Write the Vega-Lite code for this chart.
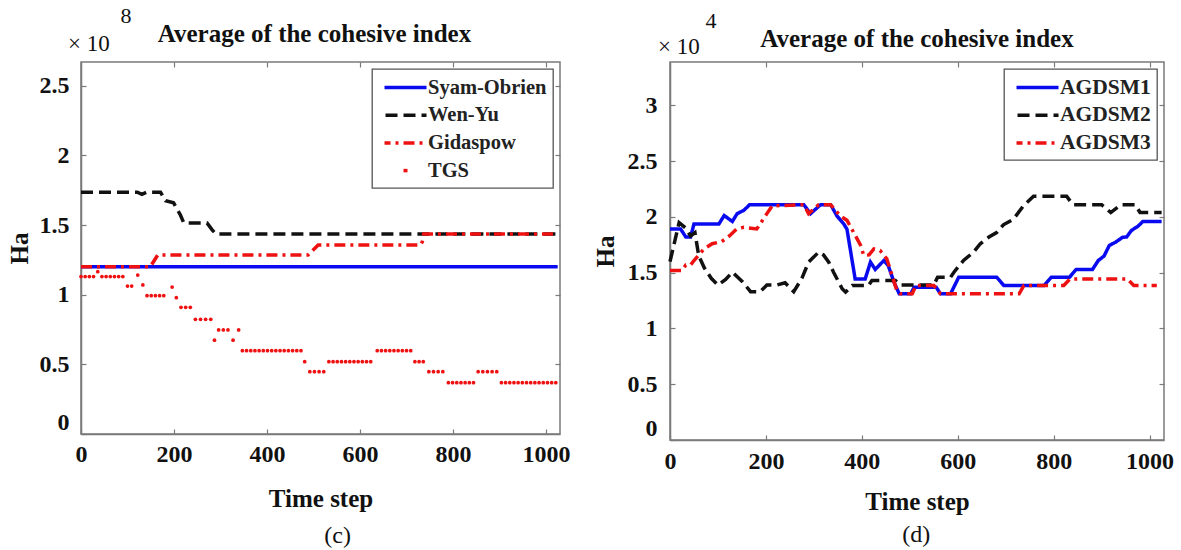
{
  "$schema": "https://vega.github.io/schema/vega-lite/v6.json",
  "background": "white",
  "padding": {"left": 6, "top": 4, "right": 3, "bottom": 3},
  "spacing": 21,
  "resolve": {"scale": {"color": "independent", "strokeDash": "independent"}, "legend": {"color": "independent", "strokeDash": "independent"}},
  "config": {
    "font": "Liberation Serif",
    "view": {"stroke": "#7a7a7a", "strokeWidth": 1.5},
    "axis": {"labelFont": "Liberation Serif", "labelFontWeight": "bold", "labelFontSize": 24, "labelColor": "#111111", "titleFont": "Liberation Serif", "titleFontWeight": "bold", "titleFontSize": 25, "titleColor": "#111111", "domainColor": "#7a7a7a", "domainWidth": 1.5, "tickColor": "#7a7a7a", "tickWidth": 1.2, "grid": false},
    "legend": {"orient": "top-right", "offset": 7, "padding": 6, "strokeColor": "#555555", "strokeWidth": 1.3, "fillColor": "white", "symbolType": "M-2,0H2", "symbolSize": 441, "symbolOffset": 15, "symbolStrokeWidth": 3.5, "symbolDashOffset": -19, "labelFont": "Liberation Serif", "labelFontWeight": "bold", "labelFontSize": 20.5, "labelColor": "#222222", "rowPadding": 4.7, "labelOffset": 10},
    "title": {"font": "Liberation Serif", "fontWeight": "bold", "fontSize": 25, "color": "#111111"}
  },
  "datasets": {
    "c_lines": [
      {"t": 0, "v": 1.2, "s": "Syam-Obrien"}, {"t": 1025, "v": 1.2, "s": "Syam-Obrien"},
      {"t": 0, "v": 1.735, "s": "Wen-Yu"}, {"t": 121, "v": 1.735, "s": "Wen-Yu"}, {"t": 131, "v": 1.72, "s": "Wen-Yu"}, {"t": 141, "v": 1.735, "s": "Wen-Yu"}, {"t": 171, "v": 1.735, "s": "Wen-Yu"}, {"t": 182, "v": 1.675, "s": "Wen-Yu"}, {"t": 199, "v": 1.66, "s": "Wen-Yu"}, {"t": 214, "v": 1.57, "s": "Wen-Yu"}, {"t": 221, "v": 1.515, "s": "Wen-Yu"}, {"t": 271, "v": 1.515, "s": "Wen-Yu"}, {"t": 282, "v": 1.465, "s": "Wen-Yu"}, {"t": 290, "v": 1.436, "s": "Wen-Yu"}, {"t": 1025, "v": 1.436, "s": "Wen-Yu"},
      {"t": 0, "v": 1.2, "s": "Gidaspow"}, {"t": 149, "v": 1.2, "s": "Gidaspow"}, {"t": 165, "v": 1.285, "s": "Gidaspow"}, {"t": 488, "v": 1.285, "s": "Gidaspow"}, {"t": 510, "v": 1.357, "s": "Gidaspow"}, {"t": 730, "v": 1.357, "s": "Gidaspow"}, {"t": 734, "v": 1.38, "s": "Gidaspow"}, {"t": 737, "v": 1.436, "s": "Gidaspow"}, {"t": 1025, "v": 1.436, "s": "Gidaspow"}
    ],
    "c_tgs": [
      {"t": 0, "v": 1.13}, {"t": 9, "v": 1.13}, {"t": 18, "v": 1.13}, {"t": 27, "v": 1.13}, {"t": 36, "v": 1.165}, {"t": 45, "v": 1.13}, {"t": 54, "v": 1.13}, {"t": 63, "v": 1.13}, {"t": 72, "v": 1.13}, {"t": 81, "v": 1.13}, {"t": 90, "v": 1.13},
      {"t": 100, "v": 1.062}, {"t": 109, "v": 1.062}, {"t": 122, "v": 1.141}, {"t": 133, "v": 1.07},
      {"t": 142, "v": 0.993}, {"t": 151, "v": 0.993}, {"t": 160, "v": 0.993}, {"t": 169, "v": 0.993}, {"t": 178, "v": 0.993},
      {"t": 196, "v": 1.055}, {"t": 205, "v": 0.978},
      {"t": 215, "v": 0.909}, {"t": 225, "v": 0.909}, {"t": 235, "v": 0.909},
      {"t": 246, "v": 0.823}, {"t": 257, "v": 0.823}, {"t": 268, "v": 0.823}, {"t": 279, "v": 0.823},
      {"t": 287, "v": 0.673}, {"t": 296, "v": 0.747}, {"t": 306, "v": 0.747}, {"t": 316, "v": 0.747}, {"t": 327, "v": 0.673}, {"t": 339, "v": 0.747},
      {"t": 347, "v": 0.598}, {"t": 356, "v": 0.598}, {"t": 365, "v": 0.598}, {"t": 374, "v": 0.598}, {"t": 383, "v": 0.598}, {"t": 392, "v": 0.598}, {"t": 401, "v": 0.598}, {"t": 410, "v": 0.598}, {"t": 419, "v": 0.598}, {"t": 428, "v": 0.598}, {"t": 437, "v": 0.598}, {"t": 446, "v": 0.598}, {"t": 455, "v": 0.598}, {"t": 464, "v": 0.598}, {"t": 473, "v": 0.598},
      {"t": 481, "v": 0.519},
      {"t": 492, "v": 0.447}, {"t": 502, "v": 0.447}, {"t": 512, "v": 0.447}, {"t": 522, "v": 0.447},
      {"t": 533, "v": 0.519}, {"t": 542, "v": 0.519}, {"t": 551, "v": 0.519}, {"t": 560, "v": 0.519}, {"t": 569, "v": 0.519}, {"t": 578, "v": 0.519}, {"t": 587, "v": 0.519}, {"t": 596, "v": 0.519}, {"t": 605, "v": 0.519}, {"t": 614, "v": 0.519}, {"t": 623, "v": 0.519},
      {"t": 637, "v": 0.598}, {"t": 646, "v": 0.598}, {"t": 655, "v": 0.598}, {"t": 664, "v": 0.598}, {"t": 673, "v": 0.598}, {"t": 682, "v": 0.598}, {"t": 691, "v": 0.598}, {"t": 700, "v": 0.598}, {"t": 709, "v": 0.598},
      {"t": 718, "v": 0.519}, {"t": 727, "v": 0.519}, {"t": 736, "v": 0.519},
      {"t": 748, "v": 0.447}, {"t": 758, "v": 0.447}, {"t": 768, "v": 0.447}, {"t": 778, "v": 0.447},
      {"t": 790, "v": 0.368}, {"t": 799, "v": 0.368}, {"t": 808, "v": 0.368}, {"t": 817, "v": 0.368}, {"t": 826, "v": 0.368}, {"t": 835, "v": 0.368}, {"t": 844, "v": 0.368},
      {"t": 854, "v": 0.447}, {"t": 864, "v": 0.447}, {"t": 874, "v": 0.447}, {"t": 884, "v": 0.447}, {"t": 894, "v": 0.447},
      {"t": 904, "v": 0.368}, {"t": 913, "v": 0.368}, {"t": 922, "v": 0.368}, {"t": 931, "v": 0.368}, {"t": 940, "v": 0.368}, {"t": 949, "v": 0.368}, {"t": 958, "v": 0.368}, {"t": 967, "v": 0.368}, {"t": 976, "v": 0.368}, {"t": 985, "v": 0.368}, {"t": 994, "v": 0.368}, {"t": 1003, "v": 0.368}, {"t": 1012, "v": 0.368}, {"t": 1021, "v": 0.368}
    ],
    "d_lines": [
      {"t": 0, "v": 1.893, "s": "AGDSM1"}, {"t": 22, "v": 1.893, "s": "AGDSM1"}, {"t": 33, "v": 1.82, "s": "AGDSM1"}, {"t": 43, "v": 1.82, "s": "AGDSM1"}, {"t": 50, "v": 1.938, "s": "AGDSM1"}, {"t": 102, "v": 1.938, "s": "AGDSM1"}, {"t": 113, "v": 2.013, "s": "AGDSM1"}, {"t": 130, "v": 1.96, "s": "AGDSM1"}, {"t": 140, "v": 2.03, "s": "AGDSM1"}, {"t": 154, "v": 2.06, "s": "AGDSM1"}, {"t": 166, "v": 2.11, "s": "AGDSM1"}, {"t": 279, "v": 2.11, "s": "AGDSM1"}, {"t": 293, "v": 2.03, "s": "AGDSM1"}, {"t": 314, "v": 2.11, "s": "AGDSM1"}, {"t": 335, "v": 2.11, "s": "AGDSM1"}, {"t": 348, "v": 2.01, "s": "AGDSM1"}, {"t": 362, "v": 1.94, "s": "AGDSM1"}, {"t": 369, "v": 1.89, "s": "AGDSM1"}, {"t": 386, "v": 1.445, "s": "AGDSM1"}, {"t": 407, "v": 1.445, "s": "AGDSM1"}, {"t": 418, "v": 1.595, "s": "AGDSM1"}, {"t": 428, "v": 1.53, "s": "AGDSM1"}, {"t": 446, "v": 1.61, "s": "AGDSM1"}, {"t": 455, "v": 1.565, "s": "AGDSM1"}, {"t": 467, "v": 1.416, "s": "AGDSM1"}, {"t": 478, "v": 1.311, "s": "AGDSM1"}, {"t": 502, "v": 1.311, "s": "AGDSM1"}, {"t": 509, "v": 1.37, "s": "AGDSM1"}, {"t": 555, "v": 1.37, "s": "AGDSM1"}, {"t": 564, "v": 1.311, "s": "AGDSM1"}, {"t": 585, "v": 1.311, "s": "AGDSM1"}, {"t": 602, "v": 1.46, "s": "AGDSM1"}, {"t": 681, "v": 1.46, "s": "AGDSM1"}, {"t": 696, "v": 1.386, "s": "AGDSM1"}, {"t": 780, "v": 1.386, "s": "AGDSM1"}, {"t": 795, "v": 1.46, "s": "AGDSM1"}, {"t": 833, "v": 1.46, "s": "AGDSM1"}, {"t": 847, "v": 1.53, "s": "AGDSM1"}, {"t": 881, "v": 1.53, "s": "AGDSM1"}, {"t": 893, "v": 1.61, "s": "AGDSM1"}, {"t": 905, "v": 1.65, "s": "AGDSM1"}, {"t": 916, "v": 1.745, "s": "AGDSM1"}, {"t": 929, "v": 1.774, "s": "AGDSM1"}, {"t": 944, "v": 1.819, "s": "AGDSM1"}, {"t": 952, "v": 1.82, "s": "AGDSM1"}, {"t": 962, "v": 1.879, "s": "AGDSM1"}, {"t": 976, "v": 1.918, "s": "AGDSM1"}, {"t": 986, "v": 1.96, "s": "AGDSM1"}, {"t": 1025, "v": 1.96, "s": "AGDSM1"},
      {"t": 0, "v": 1.6, "s": "AGDSM2"}, {"t": 19, "v": 1.95, "s": "AGDSM2"}, {"t": 33, "v": 1.9, "s": "AGDSM2"}, {"t": 43, "v": 1.83, "s": "AGDSM2"}, {"t": 52, "v": 1.86, "s": "AGDSM2"}, {"t": 60, "v": 1.65, "s": "AGDSM2"}, {"t": 72, "v": 1.54, "s": "AGDSM2"}, {"t": 86, "v": 1.45, "s": "AGDSM2"}, {"t": 100, "v": 1.39, "s": "AGDSM2"}, {"t": 116, "v": 1.44, "s": "AGDSM2"}, {"t": 130, "v": 1.505, "s": "AGDSM2"}, {"t": 151, "v": 1.42, "s": "AGDSM2"}, {"t": 168, "v": 1.33, "s": "AGDSM2"}, {"t": 188, "v": 1.33, "s": "AGDSM2"}, {"t": 202, "v": 1.39, "s": "AGDSM2"}, {"t": 223, "v": 1.39, "s": "AGDSM2"}, {"t": 240, "v": 1.41, "s": "AGDSM2"}, {"t": 258, "v": 1.33, "s": "AGDSM2"}, {"t": 275, "v": 1.45, "s": "AGDSM2"}, {"t": 289, "v": 1.595, "s": "AGDSM2"}, {"t": 310, "v": 1.685, "s": "AGDSM2"}, {"t": 320, "v": 1.66, "s": "AGDSM2"}, {"t": 331, "v": 1.595, "s": "AGDSM2"}, {"t": 341, "v": 1.505, "s": "AGDSM2"}, {"t": 359, "v": 1.356, "s": "AGDSM2"}, {"t": 366, "v": 1.326, "s": "AGDSM2"}, {"t": 380, "v": 1.386, "s": "AGDSM2"}, {"t": 414, "v": 1.386, "s": "AGDSM2"}, {"t": 421, "v": 1.43, "s": "AGDSM2"}, {"t": 470, "v": 1.43, "s": "AGDSM2"}, {"t": 480, "v": 1.39, "s": "AGDSM2"}, {"t": 550, "v": 1.39, "s": "AGDSM2"}, {"t": 558, "v": 1.46, "s": "AGDSM2"}, {"t": 585, "v": 1.46, "s": "AGDSM2"}, {"t": 592, "v": 1.505, "s": "AGDSM2"}, {"t": 612, "v": 1.61, "s": "AGDSM2"}, {"t": 633, "v": 1.685, "s": "AGDSM2"}, {"t": 647, "v": 1.76, "s": "AGDSM2"}, {"t": 665, "v": 1.82, "s": "AGDSM2"}, {"t": 681, "v": 1.86, "s": "AGDSM2"}, {"t": 695, "v": 1.93, "s": "AGDSM2"}, {"t": 716, "v": 1.98, "s": "AGDSM2"}, {"t": 737, "v": 2.1, "s": "AGDSM2"}, {"t": 758, "v": 2.186, "s": "AGDSM2"}, {"t": 827, "v": 2.186, "s": "AGDSM2"}, {"t": 840, "v": 2.11, "s": "AGDSM2"}, {"t": 900, "v": 2.11, "s": "AGDSM2"}, {"t": 919, "v": 2.04, "s": "AGDSM2"}, {"t": 940, "v": 2.11, "s": "AGDSM2"}, {"t": 970, "v": 2.11, "s": "AGDSM2"}, {"t": 980, "v": 2.04, "s": "AGDSM2"}, {"t": 1025, "v": 2.04, "s": "AGDSM2"},
      {"t": 0, "v": 1.52, "s": "AGDSM3"}, {"t": 25, "v": 1.52, "s": "AGDSM3"}, {"t": 33, "v": 1.57, "s": "AGDSM3"}, {"t": 43, "v": 1.57, "s": "AGDSM3"}, {"t": 50, "v": 1.61, "s": "AGDSM3"}, {"t": 71, "v": 1.714, "s": "AGDSM3"}, {"t": 88, "v": 1.76, "s": "AGDSM3"}, {"t": 108, "v": 1.78, "s": "AGDSM3"}, {"t": 125, "v": 1.834, "s": "AGDSM3"}, {"t": 139, "v": 1.893, "s": "AGDSM3"}, {"t": 154, "v": 1.908, "s": "AGDSM3"}, {"t": 181, "v": 1.893, "s": "AGDSM3"}, {"t": 202, "v": 2.03, "s": "AGDSM3"}, {"t": 213, "v": 2.1, "s": "AGDSM3"}, {"t": 279, "v": 2.11, "s": "AGDSM3"}, {"t": 289, "v": 2.03, "s": "AGDSM3"}, {"t": 310, "v": 2.11, "s": "AGDSM3"}, {"t": 335, "v": 2.11, "s": "AGDSM3"}, {"t": 355, "v": 2.01, "s": "AGDSM3"}, {"t": 369, "v": 1.97, "s": "AGDSM3"}, {"t": 383, "v": 1.86, "s": "AGDSM3"}, {"t": 397, "v": 1.75, "s": "AGDSM3"}, {"t": 404, "v": 1.655, "s": "AGDSM3"}, {"t": 415, "v": 1.66, "s": "AGDSM3"}, {"t": 425, "v": 1.714, "s": "AGDSM3"}, {"t": 438, "v": 1.7, "s": "AGDSM3"}, {"t": 452, "v": 1.625, "s": "AGDSM3"}, {"t": 462, "v": 1.49, "s": "AGDSM3"}, {"t": 473, "v": 1.34, "s": "AGDSM3"}, {"t": 480, "v": 1.311, "s": "AGDSM3"}, {"t": 505, "v": 1.311, "s": "AGDSM3"}, {"t": 513, "v": 1.386, "s": "AGDSM3"}, {"t": 550, "v": 1.386, "s": "AGDSM3"}, {"t": 564, "v": 1.311, "s": "AGDSM3"}, {"t": 728, "v": 1.311, "s": "AGDSM3"}, {"t": 738, "v": 1.386, "s": "AGDSM3"}, {"t": 821, "v": 1.386, "s": "AGDSM3"}, {"t": 834, "v": 1.445, "s": "AGDSM3"}, {"t": 953, "v": 1.445, "s": "AGDSM3"}, {"t": 967, "v": 1.386, "s": "AGDSM3"}, {"t": 1015, "v": 1.386, "s": "AGDSM3"}
    ]
  },
  "hconcat": [
    {
      "title": {"text": "(c)", "orient": "bottom", "anchor": "start", "dx": 318, "fontWeight": "normal", "fontSize": 24, "offset": 12},
      "resolve": {"scale": {"color": "independent", "strokeDash": "independent"}, "legend": {"color": "independent", "strokeDash": "independent"}},
      "vconcat": [
        {
          "width": 479,
          "height": 372,
          "title": {"text": "Average of the cohesive index", "offset": -42, "dx": -6},
          "layer": [
            {
              "data": {"name": "c_lines"},
              "transform": [{"filter": "datum.s === 'Syam-Obrien'"}],
              "mark": {"type": "line", "strokeWidth": 3.5},
              "encoding": {
                "x": {"field": "t", "type": "quantitative", "scale": {"domain": [0, 1030], "nice": false, "zero": false}, "axis": {"values": [0, 200, 400, 600, 800, 1000], "format": "d", "title": "Time step", "tickSize": -5, "labelPadding": 13, "titlePadding": 20, "labelFlush": false}},
                "y": {"field": "v", "type": "quantitative", "scale": {"domain": [0, 2.67], "nice": false}, "axis": {"values": [0, 0.5, 1, 1.5, 2, 2.5], "format": "~g", "title": "Ha", "tickSize": -5, "labelPadding": 17, "titlePadding": 7, "labelFlush": true}},
                "color": {"field": "s", "type": "nominal", "scale": {"domain": ["Syam-Obrien", "Wen-Yu", "Gidaspow", "TGS"], "range": ["#0a0af0", "#111111", "#ee1111", "#ee1111"]}, "legend": {"title": null}},
                "strokeDash": {"field": "s", "type": "nominal", "scale": {"domain": ["Syam-Obrien", "Wen-Yu", "Gidaspow", "TGS"], "range": [[1, 0], [12, 6], [11, 5, 3, 5], [4, 100]]}, "legend": {"title": null}}
              }
            },
            {
              "data": {"name": "c_lines"},
              "transform": [{"filter": "datum.s === 'Wen-Yu'"}],
              "mark": {"type": "line", "strokeWidth": 3.5},
              "encoding": {
                "x": {"field": "t", "type": "quantitative", "axis": null},
                "y": {"field": "v", "type": "quantitative", "axis": null},
                "color": {"field": "s", "type": "nominal", "legend": {"title": null}},
                "strokeDash": {"field": "s", "type": "nominal", "legend": {"title": null}}
              }
            },
            {
              "data": {"name": "c_lines"},
              "transform": [{"filter": "datum.s === 'Gidaspow'"}],
              "mark": {"type": "line", "strokeWidth": 3.5},
              "encoding": {
                "x": {"field": "t", "type": "quantitative", "axis": null},
                "y": {"field": "v", "type": "quantitative", "axis": null},
                "color": {"field": "s", "type": "nominal", "legend": {"title": null}},
                "strokeDash": {"field": "s", "type": "nominal", "legend": {"title": null}}
              }
            },
            {
              "data": {"name": "c_tgs"},
              "transform": [{"calculate": "'TGS'", "as": "s"}],
              "mark": {"type": "circle", "size": 14, "opacity": 1},
              "encoding": {
                "x": {"field": "t", "type": "quantitative", "axis": null},
                "y": {"field": "v", "type": "quantitative", "axis": null},
                "color": {"field": "s", "type": "nominal", "legend": null}
              }
            },
            {
              "data": {"values": [{}]},
              "mark": {"type": "text", "text": "× 10", "align": "left", "baseline": "middle", "dx": -13, "dy": -18, "fontSize": 23, "font": "Liberation Serif", "color": "#111111"},
              "encoding": {
                "x": {"datum": 0, "type": "quantitative", "axis": {"orient": "top", "values": [200, 400, 600, 800, 1000], "labels": false, "domain": false, "tickSize": -5, "title": null}},
                "y": {"datum": 2.67, "type": "quantitative", "axis": {"orient": "right", "values": [0.5, 1, 1.5, 2, 2.5], "labels": false, "domain": false, "tickSize": -5, "title": null}}
              }
            },
            {
              "data": {"values": [{}]},
              "mark": {"type": "text", "text": "8", "align": "center", "baseline": "middle", "dx": 45, "dy": -46, "fontSize": 22, "font": "Liberation Serif", "color": "#111111"},
              "encoding": {
                "x": {"datum": 0, "type": "quantitative", "axis": null},
                "y": {"datum": 2.67, "type": "quantitative", "axis": null}
              }
            }
          ],
          "resolve": {"axis": {"x": "independent", "y": "independent"}}
        }
      ]
    },
    {
      "title": {"text": "(d)", "orient": "bottom", "anchor": "start", "dx": 310, "fontWeight": "normal", "fontSize": 24, "offset": 8},
      "resolve": {"scale": {"color": "independent", "strokeDash": "independent"}, "legend": {"color": "independent", "strokeDash": "independent"}},
      "vconcat": [
        {
          "width": 494,
          "height": 378,
          "title": {"text": "Average of the cohesive index", "offset": -42},
          "layer": [
            {
              "data": {"name": "d_lines"},
              "mark": {"type": "line", "strokeWidth": 3.5},
              "encoding": {
                "x": {"field": "t", "type": "quantitative", "scale": {"domain": [0, 1030], "nice": false, "zero": false}, "axis": {"values": [0, 200, 400, 600, 800, 1000], "format": "d", "title": "Time step", "tickSize": -5, "labelPadding": 14, "titlePadding": 16, "labelFlush": false}},
                "y": {"field": "v", "type": "quantitative", "scale": {"domain": [0, 3.39], "nice": false}, "axis": {"values": [0, 0.5, 1, 1.5, 2, 2.5, 3], "format": "~g", "title": "Ha", "tickSize": -5, "labelPadding": 18, "titlePadding": 9, "labelFlush": true}},
                "color": {"field": "s", "type": "nominal", "scale": {"domain": ["AGDSM1", "AGDSM2", "AGDSM3"], "range": ["#0a0af0", "#111111", "#ee1111"]}, "legend": {"title": null, "labelFontSize": 21.5}},
                "strokeDash": {"field": "s", "type": "nominal", "scale": {"domain": ["AGDSM1", "AGDSM2", "AGDSM3"], "range": [[1, 0], [12, 6], [11, 5, 3, 5]]}, "legend": {"title": null, "labelFontSize": 21.5}}
              }
            },
            {
              "data": {"values": [{}]},
              "mark": {"type": "text", "text": "× 10", "align": "left", "baseline": "middle", "dx": -12, "dy": -15, "fontSize": 23, "font": "Liberation Serif", "color": "#111111"},
              "encoding": {
                "x": {"datum": 0, "type": "quantitative", "axis": {"orient": "top", "values": [200, 400, 600, 800, 1000], "labels": false, "domain": false, "tickSize": -5, "title": null}},
                "y": {"datum": 3.39, "type": "quantitative", "axis": {"orient": "right", "values": [0.5, 1, 1.5, 2, 2.5, 3], "labels": false, "domain": false, "tickSize": -5, "title": null}}
              }
            },
            {
              "data": {"values": [{}]},
              "mark": {"type": "text", "text": "4", "align": "center", "baseline": "middle", "dx": 41, "dy": -41, "fontSize": 22, "font": "Liberation Serif", "color": "#111111"},
              "encoding": {
                "x": {"datum": 0, "type": "quantitative", "axis": null},
                "y": {"datum": 3.39, "type": "quantitative", "axis": null}
              }
            }
          ],
          "resolve": {"axis": {"x": "independent", "y": "independent"}}
        }
      ]
    }
  ]
}
